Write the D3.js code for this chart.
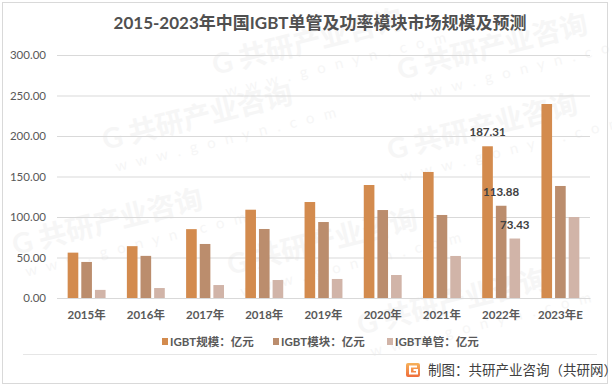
<!DOCTYPE html>
<html>
<head>
<meta charset="UTF-8">
<title>IGBT market</title>
<script src="https://d3js.org/d3.v7.min.js"></script>
<style>
  body { margin: 0; background: #fff; }
  text { font-family: Lato, "Noto Sans CJK SC", sans-serif; }
</style>
</head>
<body>
<script>
// data
var years = ["2015年", "2016年", "2017年", "2018年", "2019年", "2020年", "2021年", "2022年", "2023年E"];
var seriesNames = ["IGBT规模：亿元", "IGBT模块：亿元", "IGBT单管：亿元"];
var scaleVals = [56, 64, 85, 109, 118.5, 139.5, 155.6, 187.31, 239.5];
var moduleVals = [44.5, 52, 66.7, 85.2, 93.8, 108.6, 102.5, 113.88, 138.3];
var singleVals = [10, 12.3, 16, 22.2, 23.5, 28.4, 51.9, 73.43, 100];
var yTicks = [0, 50, 100, 150, 200, 250, 300];
var labelYear = "2022年";
var colors = ["#d38b4e", "#bb8d6d", "#d1b4a8"];

var W = 612, H = 388;
var plotL = 57, plotR = 590, plotT = 55, plotB = 298;

var svg = d3.select("body").append("svg").attr("width", W).attr("height", H);
svg.append("rect").attr("width", W).attr("height", H).attr("fill", "#fff");

// watermarks
var marks = [[105, 150], [215, 75], [230, 275], [15, 255], [390, 160], [360, 335], [400, 80]];
marks.forEach(function(m) {
  var g = svg.append("g").attr("transform", "translate(" + m[0] + "," + m[1] + ") rotate(-14)");
  g.append("text").text("G 共研产业咨询").attr("font-size", 28).attr("font-weight", 700).attr("fill", "#f6f6f6");
  g.append("text").text("w w w . g o n y n . c o m").attr("y", 24).attr("x", 6)
    .attr("font-size", 15).attr("fill", "#f6f6f6").attr("letter-spacing", 3);
});

// frame
svg.append("rect").attr("x", 2.5).attr("y", 2.5).attr("width", 605).attr("height", 381)
  .attr("fill", "none").attr("stroke", "#d9d9d9");

// title
svg.append("text").attr("x", 320).attr("y", 29).attr("text-anchor", "middle")
  .attr("font-size", 17).attr("font-weight", 700).attr("fill", "#505050")
  .attr("font-family", "'Noto Sans CJK SC', sans-serif")
  .text("2015-2023年中国IGBT单管及功率模块市场规模及预测");

// scales
var x = d3.scaleBand().domain(years).range([plotL, plotR]).paddingInner(0.36).paddingOuter(0.18);
var xs = d3.scaleBand().domain([0, 1, 2]).range([0, x.bandwidth()]).paddingInner(0.22);
var y = d3.scaleLinear().domain([0, 300]).range([plotB, plotT]);

// y axis + grid
var yAxis = svg.append("g").attr("transform", "translate(" + plotL + ",0)")
  .call(d3.axisLeft(y).tickValues(yTicks).tickSize(-(plotR - plotL)).tickPadding(11).tickFormat(d3.format(".2f")));
yAxis.select(".domain").remove();
yAxis.selectAll(".tick line").attr("stroke", "#d9d9d9");
yAxis.selectAll(".tick text").attr("font-size", 11.5).attr("fill", "#595959")
  .attr("font-family", "Lato, 'Noto Sans CJK SC', sans-serif");

// bars
var series = [scaleVals, moduleVals, singleVals];
series.forEach(function(vals, s) {
  svg.selectAll(".bar" + s).data(vals).enter().append("rect")
    .attr("class", "bar" + s)
    .attr("x", function(d, i) { return x(years[i]) + xs(s); })
    .attr("width", xs.bandwidth())
    .attr("y", function(d) { return y(d); })
    .attr("height", function(d) { return plotB - y(d); })
    .attr("fill", colors[s]);
});

// x axis
var xAxis = svg.append("g").attr("transform", "translate(0," + plotB + ")")
  .call(d3.axisBottom(x).tickSize(0).tickPadding(13));
xAxis.select(".domain").attr("stroke", "#d9d9d9");
xAxis.selectAll(".tick text").attr("font-size", 11.5).attr("font-weight", 700).attr("fill", "#595959")
  .attr("font-family", "Lato, 'Noto Sans CJK SC', sans-serif");

// labels on 2022
var li = years.indexOf(labelYear);
series.forEach(function(vals, s) {
  svg.append("text")
    .attr("x", x(labelYear) + xs(s) + xs.bandwidth() / 2)
    .attr("y", y(vals[li]) - 10)
    .attr("text-anchor", "middle").attr("font-size", 11.5).attr("font-weight", 700).attr("fill", "#404040")
    .text(vals[li].toFixed(2));
});

// legend
var legendX = [162, 273, 387];
seriesNames.forEach(function(n, s) {
  var g = svg.append("g").attr("transform", "translate(" + legendX[s] + ",342)");
  g.append("rect").attr("x", 0).attr("y", -4).attr("width", 6).attr("height", 7).attr("fill", colors[s]);
  g.append("text").attr("x", 8).attr("y", 4).attr("font-size", 11.5).attr("font-weight", 700)
    .attr("fill", "#595959").text(n);
});

// footer
svg.append("line").attr("x1", 23).attr("x2", 597).attr("y1", 354.5).attr("y2", 354.5)
  .attr("stroke", "#e6e6e6");
var grad = svg.append("defs").append("linearGradient").attr("id", "lg").attr("x1", 0).attr("y1", 0).attr("x2", 0).attr("y2", 1);
grad.append("stop").attr("offset", 0).attr("stop-color", "#f6b25a");
grad.append("stop").attr("offset", 1).attr("stop-color", "#ef6c3a");
var logo = svg.append("g").attr("transform", "translate(406,363)");
logo.append("rect").attr("width", 14).attr("height", 14).attr("rx", 2).attr("fill", "url(#lg)");
logo.append("path").attr("d", "M11 3.5 H4 V10.5 H11 V7 H7.5").attr("fill", "none").attr("stroke", "#fff").attr("stroke-width", 2);
svg.append("text").attr("x", 428).attr("y", 375).attr("font-size", 13.5).attr("fill", "#404040")
  .attr("font-family", "'Noto Sans CJK SC', sans-serif")
  .text("制图：共研产业咨询（共研网）");
</script>
</body>
</html>
